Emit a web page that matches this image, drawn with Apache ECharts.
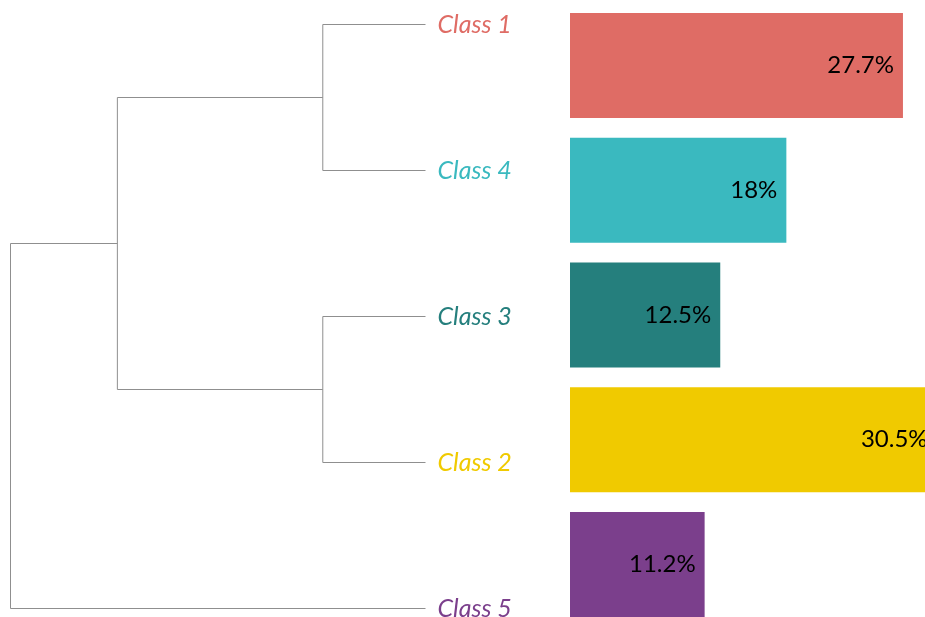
<!DOCTYPE html>
<html><head><meta charset="utf-8">
<script src="https://cdn.jsdelivr.net/npm/echarts@6/dist/echarts.min.js"></script>
<style>html,body{margin:0;padding:0;background:#fff}#c{width:925px;height:617px}</style>
</head><body><div id="c"></div>
<script>
// Leaf order (top to bottom)
const classes = ['Class 1', 'Class 4', 'Class 3', 'Class 2', 'Class 5'];
const shares = [27.7, 18, 12.5, 30.5, 11.2];
const colors = ['#DF6C65', '#3AB9BF', '#257F7D', '#F0CA00', '#7B3F8C'];
// Linkage: [childA, childB, height]; leaves 0..4, new nodes 5..8
const linkage = [
  [0, 1, 0.99],
  [2, 3, 0.99],
  [5, 6, 2.97],
  [7, 4, 4.0]
];

// build node positions (y = leaf index position, x = height)
const nodeY = classes.map((_, i) => i);
const nodeH = classes.map(() => 0);
const segs = [];
linkage.forEach(([a, b, h]) => {
  segs.push({coords: [[nodeH[a], nodeY[a]], [h, nodeY[a]], [h, nodeY[b]], [nodeH[b], nodeY[b]]]});
  nodeY.push((nodeY[a] + nodeY[b]) / 2);
  nodeH.push(h);
});

const rich = {};
classes.forEach((c, i) => { rich['c' + i] = {color: colors[i], fontStyle: 'italic', fontFamily: 'Lato', fontSize: 25}; });

const chart = echarts.init(document.getElementById('c'));
chart.setOption({
  animation: false,
  grid: [
    {left: 10.5, width: 415, top: 24.5, height: 584, outerBoundsMode: 'none', containLabel: false},
    {left: 570, width: 420.7, top: 3.1, height: 623.75, outerBoundsMode: 'none', containLabel: false}
  ],
  xAxis: [
    {gridIndex: 0, type: 'value', min: 0, max: 4, inverse: true, show: false},
    {gridIndex: 1, type: 'value', min: 0, max: 35, show: false}
  ],
  yAxis: [
    {gridIndex: 0, type: 'value', min: 0, max: 4, interval: 1, inverse: true, position: 'right',
     axisLine: {show: false}, axisTick: {show: false}, splitLine: {show: false},
     axisLabel: {margin: 12, formatter: v => '{c' + v + '|' + classes[v] + '}', rich: rich}},
    {gridIndex: 1, type: 'category', data: classes, inverse: true, show: false}
  ],
  series: [
    {type: 'lines', coordinateSystem: 'cartesian2d', xAxisIndex: 0, yAxisIndex: 0, polyline: true,
     lineStyle: {color: '#8f8f8f', width: 1, opacity: 1}, data: segs, silent: true},
    {type: 'bar', xAxisIndex: 1, yAxisIndex: 1, barWidth: 105,
     data: shares.map((v, i) => ({value: v, itemStyle: {color: colors[i]}})),
     label: {show: true, position: 'insideRight', distance: 9, color: '#000', fontFamily: 'Lato', fontSize: 24,
             formatter: p => p.value + '%'}}
  ]
});
</script></body></html>
